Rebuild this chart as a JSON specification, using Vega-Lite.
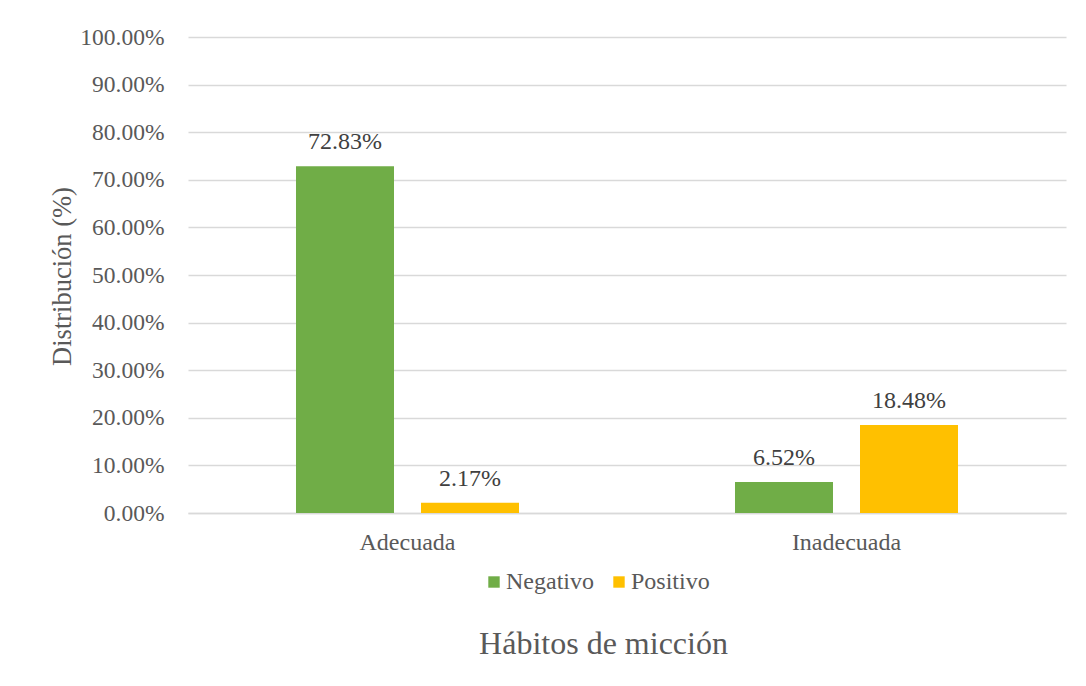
{
  "$schema": "https://vega.github.io/schema/vega-lite/v6.json",
  "width": 878,
  "height": 476,
  "autosize": {"type": "none"},
  "padding": {"left": 188, "top": 37, "right": 20, "bottom": 173},
  "background": "white",
  "config": {
    "font": "Liberation Serif",
    "view": {"stroke": null},
    "axis": {"labelFont": "Liberation Serif", "titleFont": "Liberation Serif"},
    "legend": {"labelFont": "Liberation Serif", "titleFont": "Liberation Serif"},
    "text": {"font": "Liberation Serif"}
  },
  "data": {
    "values": [
      {"habito": "Adecuada", "resultado": "Negativo", "valor": 0.7283},
      {"habito": "Adecuada", "resultado": "Positivo", "valor": 0.0217},
      {"habito": "Inadecuada", "resultado": "Negativo", "valor": 0.0652},
      {"habito": "Inadecuada", "resultado": "Positivo", "valor": 0.1848}
    ]
  },
  "encoding": {
    "x": {
      "field": "habito",
      "type": "nominal",
      "scale": {"paddingInner": 0.492, "paddingOuter": 0.246},
      "axis": {
        "title": "Hábitos de micción",
        "titleFont": "Liberation Serif",
        "titleFontSize": 32,
        "titleFontWeight": "normal",
        "titleColor": "#595959",
        "titleX": 415,
        "titleY": 130,
        "titleBaseline": "middle",
        "titleAlign": "center",
        "labelAngle": 0,
        "labelFont": "Liberation Serif",
        "labelFontSize": 24,
        "labelColor": "#595959",
        "labelPadding": 17,
        "ticks": false,
        "domainColor": "#d9d9d9",
        "domainWidth": 1.5
      }
    },
    "xOffset": {
      "field": "resultado",
      "type": "nominal",
      "scale": {"paddingInner": 0.216, "paddingOuter": 0}
    },
    "y": {
      "field": "valor",
      "type": "quantitative",
      "scale": {"domain": [0, 1]},
      "axis": {
        "title": "Distribución (%)",
        "titleFont": "Liberation Serif",
        "titleFontSize": 26.5,
        "titleFontWeight": "normal",
        "titleColor": "#595959",
        "titleX": -126,
        "titleY": 239,
        "titleAngle": -90,
        "titleAlign": "center",
        "titleBaseline": "middle",
        "values": [0, 0.1, 0.2, 0.3, 0.4, 0.5, 0.6, 0.7, 0.8, 0.9, 1.0],
        "format": ".2%",
        "labelFont": "Liberation Serif",
        "labelFontSize": 23.5,
        "labelColor": "#595959",
        "labelPadding": 24,
        "ticks": false,
        "domain": false,
        "gridColor": "#d9d9d9",
        "gridWidth": 1.5
      }
    }
  },
  "layer": [
    {
      "mark": {"type": "bar"},
      "encoding": {
        "color": {
          "field": "resultado",
          "type": "nominal",
          "scale": {"domain": ["Negativo", "Positivo"], "range": ["#70AD47", "#FFC000"]},
          "legend": {
            "title": null,
            "orient": "none",
            "direction": "horizontal",
            "legendX": 294,
            "legendY": 533,
            "symbolType": "square",
            "symbolSize": 130,
            "symbolStrokeWidth": 0,
            "labelFont": "Liberation Serif",
            "labelFontSize": 24,
            "labelColor": "#595959",
            "labelOffset": 0,
            "columnPadding": 13
          }
        }
      }
    },
    {
      "mark": {"type": "text", "baseline": "alphabetic", "dy": -17, "fontSize": 24, "font": "Liberation Serif", "color": "#404040"},
      "encoding": {
        "text": {"field": "valor", "type": "quantitative", "format": ".2%"}
      }
    }
  ]
}
